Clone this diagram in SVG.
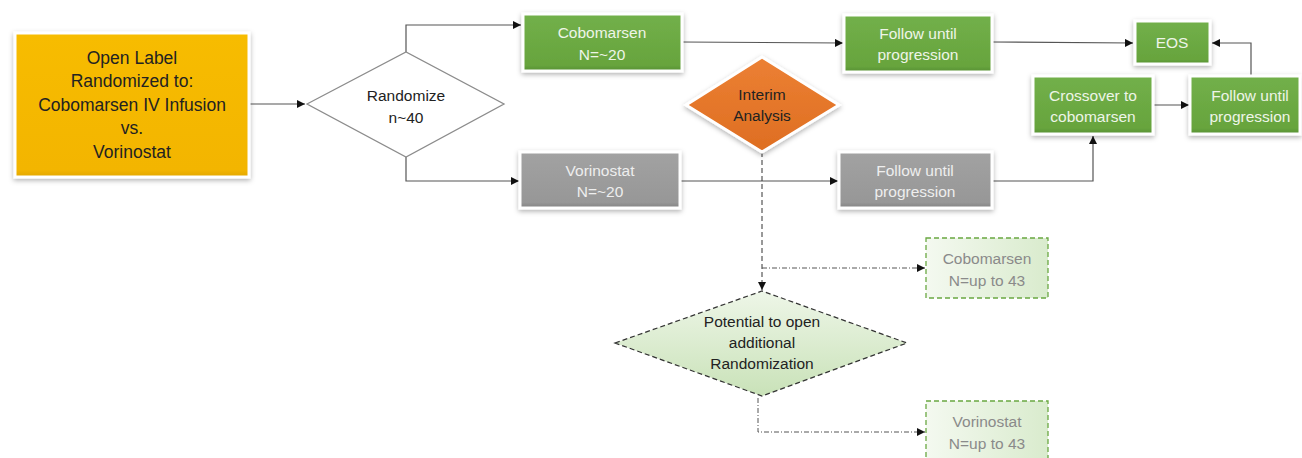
<svg xmlns="http://www.w3.org/2000/svg" width="1302" height="458" viewBox="0 0 1302 458">
<style>
text{font-family:"Liberation Sans",Arial,sans-serif;text-anchor:middle}
.box{stroke:#ffffff;stroke-width:3;filter:url(#sh)}
.g{fill:url(#gg)}
.gr{fill:url(#gy)}
.wt{fill:#eef5e8;font-size:15.5px}
.gt{fill:#eeeeee;font-size:15.5px}
.dk{fill:#222;font-size:15.5px}
.lt{fill:#8a8a8a;font-size:15.5px}
.ln{fill:none;stroke:#555;stroke-width:1.2}
.dash{fill:none;stroke:#333;stroke-width:1;stroke-dasharray:5,3}
.dd{fill:none;stroke:#555;stroke-width:1;stroke-dasharray:5,2,1,2}
.pale{fill:url(#pg);stroke:#6aa842;stroke-width:1.3;stroke-dasharray:5,3}
</style>
<defs>
<filter id="sh" x="-20%" y="-20%" width="140%" height="150%">
<feDropShadow dx="0" dy="2" stdDeviation="2.5" flood-color="#000" flood-opacity="0.3"/>
</filter>
<linearGradient id="gg" x1="0" y1="0" x2="0" y2="1"><stop offset="0" stop-color="#72b04a"/><stop offset="0.9" stop-color="#67a43d"/><stop offset="1" stop-color="#568f33"/></linearGradient>
<linearGradient id="gy" x1="0" y1="0" x2="0" y2="1"><stop offset="0" stop-color="#a2a2a2"/><stop offset="0.9" stop-color="#979797"/><stop offset="1" stop-color="#828282"/></linearGradient>
<linearGradient id="og" x1="0" y1="0" x2="0" y2="1"><stop offset="0" stop-color="#f7bc05"/><stop offset="0.95" stop-color="#f3b500"/><stop offset="1" stop-color="#e2a600"/></linearGradient>
<linearGradient id="or" x1="0" y1="0" x2="0" y2="1"><stop offset="0" stop-color="#ec8033"/><stop offset="1" stop-color="#de6e22"/></linearGradient>
<linearGradient id="pg" x1="0" y1="0" x2="1" y2="0"><stop offset="0" stop-color="#f4f9f0"/><stop offset="1" stop-color="#d9ebcd"/></linearGradient>
<linearGradient id="dg" x1="0" y1="0" x2="0" y2="1"><stop offset="0" stop-color="#eef6e8"/><stop offset="1" stop-color="#c9e2b8"/></linearGradient>
<marker id="ar" viewBox="0 0 10 10" refX="10" refY="5" markerWidth="8" markerHeight="8" markerUnits="userSpaceOnUse" orient="auto"><path d="M0,0 L10,5 L0,10 z" fill="#111"/></marker>
</defs>

<g id="connectors">
<path class="ln" d="M249,104 H305" marker-end="url(#ar)"/>
<path class="ln" d="M406,52 V25 H521" marker-end="url(#ar)"/>
<path class="ln" d="M406,157 V181 H519" marker-end="url(#ar)"/>
<path class="ln" d="M682,42 L843,43" marker-end="url(#ar)"/>
<path class="ln" d="M680,181 H838" marker-end="url(#ar)"/>
<path class="ln" d="M992,42 L1133,43" marker-end="url(#ar)"/>
<path class="ln" d="M992,181 H1093 V136" marker-end="url(#ar)"/>
<path class="ln" d="M1153,105 H1189" marker-end="url(#ar)"/>
<path class="ln" d="M1251,76 V43 H1212" marker-end="url(#ar)"/>
<path class="dash" d="M762,152 V290" marker-end="url(#ar)"/>
<path class="dd" d="M762,268 H925" marker-end="url(#ar)"/>
<path class="dd" d="M758,398 V432 H925" marker-end="url(#ar)"/>
</g>

<g id="open-label">
<rect class="box" x="15" y="33" width="234" height="144" fill="url(#og)"/>
<text class="dk" style="font-size:17.5px" x="132" y="64">Open Label</text>
<text class="dk" style="font-size:17.5px" x="132" y="87">Randomized to:</text>
<text class="dk" style="font-size:17.5px" x="132" y="111">Cobomarsen IV Infusion</text>
<text class="dk" style="font-size:17.5px" x="132" y="134">vs.</text>
<text class="dk" style="font-size:17.5px" x="132" y="158">Vorinostat</text>
</g>

<g id="randomize">
<polygon points="307,104 406,52 504,104 406,157" fill="#fff" stroke="#8c8c8c" stroke-width="1.3"/>
<text class="dk" x="406" y="101">Randomize</text>
<text class="dk" x="406" y="123">n~40</text>
</g>

<g id="cobomarsen">
<rect class="box g" x="523" y="14" width="159" height="57"/>
<text class="wt" x="602" y="38">Cobomarsen</text>
<text class="wt" x="602" y="60">N=~20</text>
</g>

<g id="vorinostat">
<rect class="box gr" x="520" y="152" width="160" height="56"/>
<text class="gt" x="600" y="176">Vorinostat</text>
<text class="gt" x="600" y="197">N=~20</text>
</g>

<g id="follow-green">
<rect class="box g" x="844" y="15" width="148" height="57"/>
<text class="wt" x="918" y="39">Follow until</text>
<text class="wt" x="918" y="60">progression</text>
</g>

<g id="follow-gray">
<rect class="box gr" x="839" y="152" width="153" height="56"/>
<text class="gt" x="915" y="176">Follow until</text>
<text class="gt" x="915" y="197">progression</text>
</g>

<g id="interim">
<polygon class="box" points="686,105 762,57 839,105 762,152" fill="url(#or)"/>
<text class="dk" x="762" y="100">Interim</text>
<text class="dk" x="762" y="121">Analysis</text>
</g>

<g id="eos">
<rect class="box g" x="1135" y="21" width="75" height="43"/>
<text class="wt" x="1172" y="48">EOS</text>
</g>

<g id="crossover">
<rect class="box g" x="1033" y="76" width="120" height="58"/>
<text class="wt" x="1093" y="101">Crossover to</text>
<text class="wt" x="1093" y="122">cobomarsen</text>
</g>

<g id="follow-right">
<rect class="box g" x="1190" y="76" width="110" height="58"/>
<text class="wt" x="1250" y="101">Follow until</text>
<text class="wt" x="1250" y="122">progression</text>
</g>

<g id="potential">
<polygon points="615,343 762,291 907,343 762,396" fill="url(#dg)" stroke="#333" stroke-width="1.2" stroke-dasharray="5,3"/>
<text class="dk" x="762" y="327">Potential to open</text>
<text class="dk" x="762" y="348">additional</text>
<text class="dk" x="762" y="369">Randomization</text>
</g>

<g id="cobomarsen-43">
<rect class="pale" x="926" y="238" width="122" height="60"/>
<text class="lt" x="987" y="264">Cobomarsen</text>
<text class="lt" x="987" y="286">N=up to 43</text>
</g>

<g id="vorinostat-43">
<rect class="pale" x="926" y="401" width="122" height="62"/>
<text class="lt" x="987" y="427">Vorinostat</text>
<text class="lt" x="987" y="449">N=up to 43</text>
</g>
</svg>
